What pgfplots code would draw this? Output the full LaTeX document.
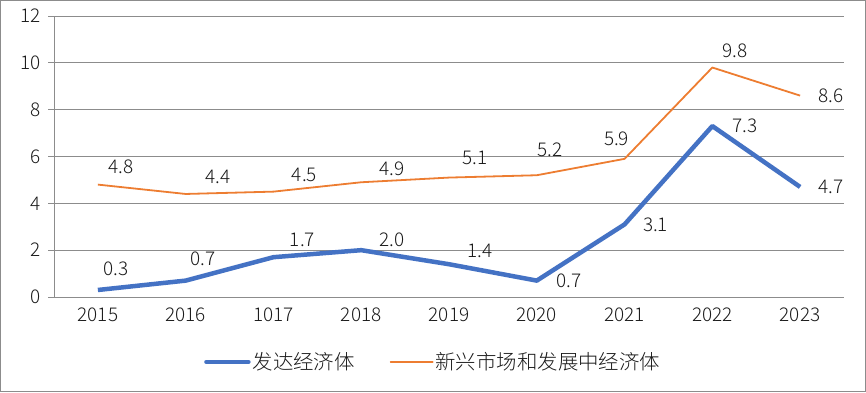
\documentclass[border=0pt]{standalone}
\usepackage{pgfplots}
\pgfplotsset{compat=1.18}
\usepackage{pgfplotstable}
\usepackage{fontspec}
\setmainfont{Noto Sans CJK SC}[UprightFont=* Light, BoldFont=*]
\usetikzlibrary{calc}
\definecolor{sblue}{HTML}{4472C4}
\definecolor{sorange}{HTML}{ED7D31}
\definecolor{gridc}{HTML}{8C8C8C}
\definecolor{txt}{HTML}{1A1A1A}

\pgfplotstableread{
x y dx dy lab
0 0.3 18 21 0.3
1 0.7 17 22 0.7
2 1.7 29 17 1.7
3 2.0 31 10 2.0
4 1.4 31 13 1.4
5 0.7 32 0 0.7
6 3.1 31 0 3.1
7 7.3 33 0 7.3
8 4.7 31 0 4.7
}\adv

\pgfplotstableread{
x y dx dy lab
0 4.8 23 18 4.8
1 4.4 32 17 4.4
2 4.5 31 17 4.5
3 4.9 31 13 4.9
4 5.1 26 20 5.1
5 5.2 13 25 5.2
6 5.9 -8 20 5.9
7 9.8 23 17 9.8
8 8.6 31 0 8.6
}\emg

\begin{document}
\begin{tikzpicture}
\begin{axis}[
  name=ax, at={(0,0)}, anchor=south west,
  scale only axis, width=790bp, height=281bp,
  xmin=-0.5, xmax=8.5, ymin=0, ymax=12,
  ytick={0,2,...,12},
  xtick={0,...,8},
  xticklabels={2015,2016,1017,2018,2019,2020,2021,2022,2023},
  major x tick style={draw=none},
  extra x ticks={-0.5,0.5,...,8.5},
  extra x tick labels={},
  extra x tick style={grid=none, major tick length=6bp, tick style={gridc, line width=0.8bp}},
  tick align=outside,
  major tick length=6bp,
  axis x line*=bottom, axis y line*=left,
  axis line style={gridc, line width=0.8bp, -},
  tick style={gridc, line width=0.8bp},
  ymajorgrids,
  grid style={gridc, line width=0.8bp},
  /pgf/number format/assume math mode=true,
  ticklabel style={font=\fontsize{19}{22}\selectfont, text=txt},
  xticklabel style={yshift=-1bp},
  yticklabel style={xshift=-4bp},
  legend style={at={(0.48,-0.231)}, anchor=center, draw=none, fill=none,
    legend columns=2, font=\fontsize{20.5}{23}\selectfont, text=txt,
    /tikz/every even column/.append style={column sep=33bp},
    inner sep=0pt, row sep=0pt},
  legend cell align=left,
  legend image code/.code={\draw[#1, line cap=round] plot coordinates {(0bp,0bp) (42bp,0bp)};},
  nodes near coords,
  point meta=explicit symbolic,
  visualization depends on={\thisrow{dx} \as \dx},
  visualization depends on={\thisrow{dy} \as \dy},
  nodes near coords style={anchor=center, xshift=\dx bp, yshift=\dy bp,
    font=\fontsize{19}{22}\selectfont, text=txt, inner sep=0pt},
  clip=false,
]
\addplot[sblue, line width=4.5bp, line join=round, mark=none] table[x=x, y=y, meta=lab] {\adv};
\addlegendentry{发达经济体}
\addplot[sorange, line width=1.8bp, line join=round, mark=none] table[x=x, y=y, meta=lab] {\emg};
\addlegendentry{新兴市场和发展中经济体}
\end{axis}
\pgfresetboundingbox
\path[use as bounding box] ($(ax.south west)+(-54bp,-95bp)$) rectangle ($(ax.north east)+(22bp,16bp)$);
\draw[gridc, line width=1bp] ($(ax.south west)+(-53.5bp,-94.5bp)$) rectangle ($(ax.north east)+(21.5bp,15.5bp)$);
\end{tikzpicture}
\end{document}
